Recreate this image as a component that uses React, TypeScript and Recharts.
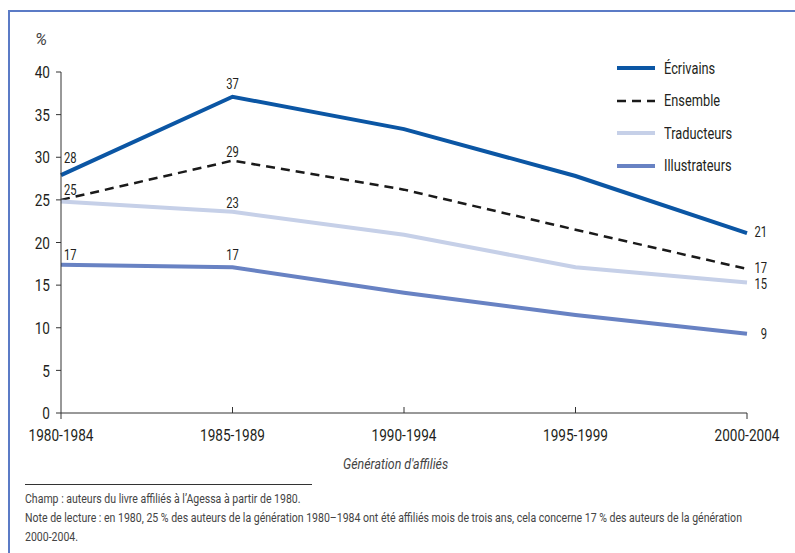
import { LineChart, Line, XAxis, YAxis, LabelList } from 'recharts'

const generations = ['1980-1984', '1985-1989', '1990-1994', '1995-1999', '2000-2004']
const ecrivains = [27.9, 37.1, 33.3, 27.8, 21.1]
const ensemble = [25.0, 29.6, 26.2, 21.5, 16.9]
const traducteurs = [24.8, 23.6, 20.9, 17.1, 15.3]
const illustrateurs = [17.4, 17.1, 14.1, 11.5, 9.3]

// labels shown next to some points ('' = none)
const ecrivainsLabels = ['28', '37', '', '', '21']
const ensembleLabels = ['25', '29', '', '', '17']
const traducteursLabels = ['', '23', '', '', '15']
const illustrateursLabels = ['17', '17', '', '', '9']

const yTicks = [0, 5, 10, 15, 20, 25, 30, 35, 40]

const FONT = 'Roboto, "DejaVu Sans Condensed", sans-serif'
const TEXT = '#231f20'
const SX = 0.8 // horizontal squeeze, the original uses a condensed face
const TICK_SIZE = 5
const X_TICK_MARGIN = 11

const series = [
  { key: 'ecrivains', name: 'Écrivains', color: '#0b56a4', width: 4, dash: undefined, labels: ecrivainsLabels, dys: [-12, -8, 4] },
  { key: 'ensemble', name: 'Ensemble', color: '#1a1a1a', width: 2.5, dash: '9 6', labels: ensembleLabels, dys: [-5, -4, 4] },
  { key: 'traducteurs', name: 'Traducteurs', color: '#c6d0e8', width: 4, dash: undefined, labels: traducteursLabels, dys: [-5, -4, 6] },
  { key: 'illustrateurs', name: 'Illustrateurs', color: '#6882c3', width: 4, dash: undefined, labels: illustrateursLabels, dys: [-5, -7, 5] },
]

const data = generations.map((g, i) => ({
  generation: g,
  ecrivains: ecrivains[i],
  ensemble: ensemble[i],
  traducteurs: traducteurs[i],
  illustrateurs: illustrateurs[i],
}))

function makeLabel(labels: string[], dys: number[]) {
  return (props: any) => {
    const { x, y, index } = props
    const text = labels[index]
    if (!text) return null
    let dx = 0
    let dy = dys[1]
    let anchor: 'start' | 'middle' | 'end' = 'middle'
    if (index === 0) {
      dx = 3
      dy = dys[0]
      anchor = 'start'
    } else if (index === generations.length - 1) {
      dx = 20
      dy = dys[2]
      anchor = 'end'
    }
    return (
      <g transform={`translate(${x + dx},${y + dy})`}>
        <text transform={`scale(${SX},1)`} textAnchor={anchor} fontSize={14} fill={TEXT} fontFamily={FONT}>
          {text}
        </text>
      </g>
    )
  }
}

function XTick(props: any) {
  const { x, y, payload, index } = props
  const axisY = y - TICK_SIZE - X_TICK_MARGIN
  const end = index === 0 || index === generations.length - 1
  return (
    <g>
      <line x1={x} x2={x} y1={axisY} y2={end ? axisY + 6 : axisY - 6} stroke="#333" />
      <g transform={`translate(${x},${y})`}>
        <text transform={`scale(${SX},1)`} textAnchor="middle" dy="0.71em" fontSize={17} fill={TEXT} fontFamily={FONT}>
          {payload.value}
        </text>
      </g>
    </g>
  )
}

function YTick(props: any) {
  const { x, y, payload } = props
  return (
    <g transform={`translate(${x},${y})`}>
      <text transform={`scale(${SX},1)`} textAnchor="end" dy="0.36em" fontSize={17} fill={TEXT} fontFamily={FONT}>
        {payload.value}
      </text>
    </g>
  )
}

const squeeze = { transform: `scaleX(${SX})`, transformOrigin: 'left top', whiteSpace: 'nowrap' as const }

function LegendBox() {
  return (
    <div style={{ position: 'absolute', left: 616, top: 52, fontFamily: FONT }}>
      {series.map((s) => (
        <div key={s.key} style={{ display: 'flex', alignItems: 'center', height: 32.5 }}>
          <svg width={40} height={10} style={{ marginRight: 8 }}>
            <line x1={1} y1={5} x2={39} y2={5} stroke={s.color} strokeWidth={s.width} strokeDasharray={s.dash} />
          </svg>
          <span style={{ fontSize: 16, color: TEXT, ...squeeze, transformOrigin: 'left center' }}>{s.name}</span>
        </div>
      ))}
    </div>
  )
}

export default function App() {
  return (
    <div style={{ position: 'absolute', left: 0, top: 0, width: 795, height: 553, background: '#fff', overflow: 'hidden', fontFamily: FONT }}>
      <div style={{ position: 'absolute', left: 8, top: 10, width: 800, height: 560, borderLeft: '2px solid #5b7bc6', borderTop: '2px solid #5b7bc6' }} />
      <div style={{ position: 'absolute', left: 35, top: 29, fontSize: 17, fontStyle: 'italic', color: '#444' }}>%</div>
      <div style={{ position: 'absolute', left: 0, top: 0 }}>
        <LineChart width={795} height={460} data={data} margin={{ top: 72, right: 48, left: 21, bottom: 20 }}>
          <XAxis
            dataKey="generation"
            height={27}
            tick={<XTick />}
            tickSize={TICK_SIZE}
            tickMargin={X_TICK_MARGIN}
            axisLine={{ stroke: '#333' }}
            tickLine={false}
            interval={0}
          />
          <YAxis
            width={40}
            domain={[0, 40]}
            ticks={yTicks}
            tick={<YTick />}
            tickSize={TICK_SIZE}
            tickMargin={6}
            axisLine={{ stroke: '#333' }}
            tickLine={{ stroke: '#333' }}
          />
          {series.map((s) => (
            <Line
              key={s.key}
              type="linear"
              dataKey={s.key}
              name={s.name}
              stroke={s.color}
              strokeWidth={s.width}
              strokeDasharray={s.dash}
              dot={false}
              activeDot={false}
              isAnimationActive={false}
            >
              <LabelList dataKey={s.key} content={makeLabel(s.labels, s.dys)} />
            </Line>
          ))}
        </LineChart>
      </div>
      <LegendBox />
      <div style={{ position: 'absolute', left: 343, top: 455, fontSize: 15.5, fontStyle: 'italic', color: '#444', ...squeeze }}>
        Génération d'affiliés
      </div>
      <div style={{ position: 'absolute', left: 25, top: 484, width: 287, borderTop: '1px solid #333' }} />
      <div style={{ position: 'absolute', left: 25, top: 489, fontSize: 13.5, lineHeight: '19px', color: '#444', ...squeeze, transform: 'scaleX(0.78)' }}>
        <div>Champ : auteurs du livre affiliés à l’Agessa à partir de 1980.</div>
        <div>Note de lecture : en 1980, 25 % des auteurs de la génération 1980–1984 ont été affiliés mois de trois ans, cela concerne 17 % des auteurs de la génération</div>
        <div>2000-2004.</div>
      </div>
    </div>
  )
}
